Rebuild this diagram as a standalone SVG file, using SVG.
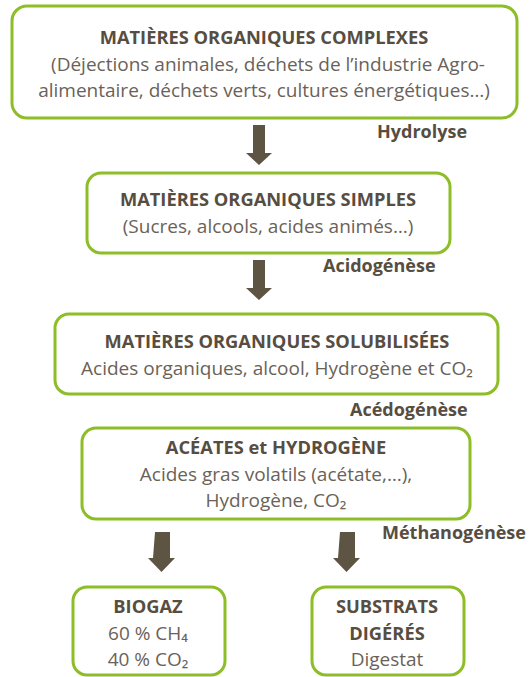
<svg xmlns="http://www.w3.org/2000/svg" width="529" height="677" viewBox="0 0 529 677">
<style>
.box{fill:#fff;stroke:#8dbd27;stroke-width:3}
text{font-family:"Open Sans",Lato,"Liberation Sans",sans-serif;fill:#574d40;text-anchor:middle}
.t{font-weight:bold;font-size:18.3px}
.s{font-size:19px;fill:#6a6258}
.l{font-weight:bold;font-size:18px;text-anchor:start}
.arr{fill:#5e5444}
</style>
<rect width="529" height="677" fill="#fff"/>
<g id="connectors">
<path class="arr" d="M253,125h12v28h7l-13,12l-13,-12h7z"/>
<path class="arr" d="M253,260h12v28h7l-13,12l-13,-12h7z"/>
<path class="arr" d="M155,532h15v26h5l-13.5,14l-13.5,-14h5z"/>
<path class="arr" d="M340,532h15v26h5l-13.5,14l-13.5,-14h5z"/>
<text class="l" x="377" y="138">Hydrolyse</text>
<text class="l" x="323" y="272">Acidogénèse</text>
<text class="l" x="350" y="416">Acédogénèse</text>
<text class="l" x="382" y="539">Méthanogénèse</text>
</g>
<g id="n1">
<rect class="box" x="12" y="6" width="505" height="112" rx="15"/>
<text class="t" x="264" y="44">MATIÈRES ORGANIQUES COMPLEXES</text>
<text class="s" x="268" y="71">(Déjections animales, déchets de l’industrie Agro-</text>
<text class="s" x="264" y="97">alimentaire, déchets verts, cultures énergétiques…)</text>
</g>
<g id="n2">
<rect class="box" x="87" y="173" width="363" height="80" rx="14"/>
<text class="t" x="268" y="206">MATIÈRES ORGANIQUES SIMPLES</text>
<text class="s" x="268" y="233">(Sucres, alcools, acides animés…)</text>
</g>
<g id="n3">
<rect class="box" x="55" y="314" width="443" height="80" rx="14"/>
<text class="t" x="277" y="348">MATIÈRES ORGANIQUES SOLUBILISÉES</text>
<text class="s" x="277" y="375">Acides organiques, alcool, Hydrogène et CO₂</text>
</g>
<g id="n4">
<rect class="box" x="82" y="428" width="388" height="91" rx="14"/>
<text class="t" x="276" y="454">ACÉATES et HYDROGÈNE</text>
<text class="s" x="276" y="481">Acides gras volatils (acétate,…),</text>
<text class="s" x="276" y="507">Hydrogène, CO₂</text>
</g>
<g id="n5">
<rect class="box" x="73" y="587" width="152" height="88" rx="14"/>
<text class="t" x="148" y="613">BIOGAZ</text>
<text class="s" x="148" y="640">60 % CH₄</text>
<text class="s" x="148" y="666">40 % CO₂</text>
</g>
<g id="n6">
<rect class="box" x="312" y="587" width="152" height="88" rx="14"/>
<text class="t" x="387" y="613">SUBSTRATS</text>
<text class="t" x="387" y="640">DIGÉRÉS</text>
<text class="s" x="387" y="666">Digestat</text>
</g>
</svg>
